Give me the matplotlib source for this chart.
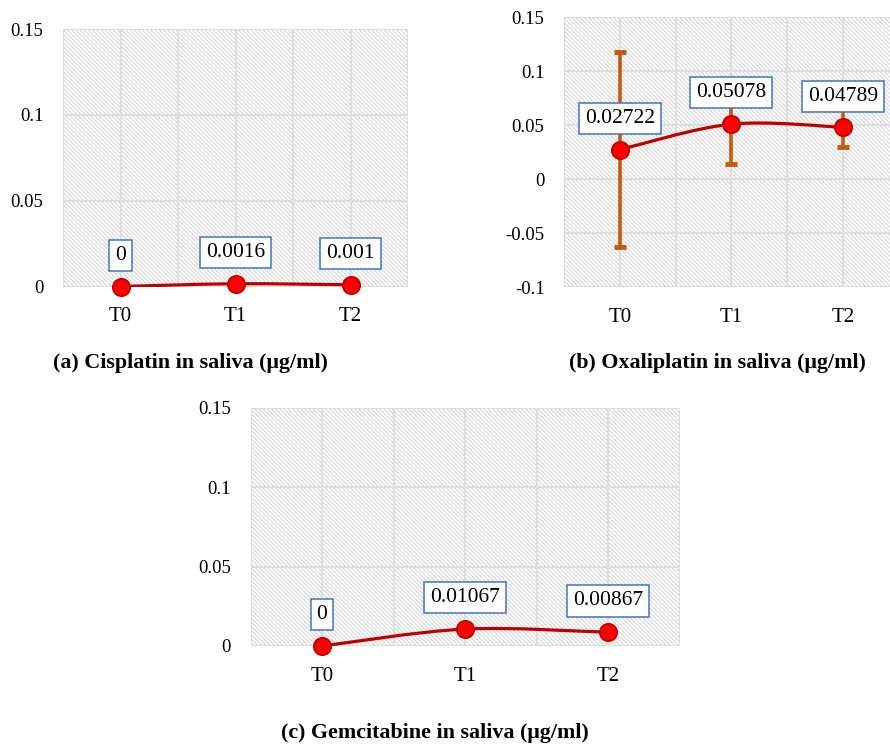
import numpy as np
import matplotlib
matplotlib.use("Agg")
import matplotlib.pyplot as plt
from matplotlib.path import Path
from matplotlib.patches import PathPatch, Rectangle

plt.rcParams['font.family'] = ['Liberation Serif', 'DejaVu Serif']
plt.rcParams['hatch.linewidth'] = 0.9

# ---- data -------------------------------------------------------------
timepoints = ['T0', 'T1', 'T2']

cisplatin = [0, 0.0016, 0.001]
cisplatin_labels = ['0', '0.0016', '0.001']

oxaliplatin = [0.02722, 0.05078, 0.04789]
oxaliplatin_err = [0.0905, 0.0369, 0.0183]
oxaliplatin_labels = ['0.02722', '0.05078', '0.04789']

gemcitabine = [0, 0.01067, 0.00867]
gemcitabine_labels = ['0', '0.01067', '0.00867']

yticks_pos = [0, 0.05, 0.1, 0.15]
yticks_pos_labels = ['0', '0.05', '0.1', '0.15']
yticks_full = [-0.1, -0.05, 0, 0.05, 0.1, 0.15]
yticks_full_labels = ['-0.1', '-0.05', '0', '0.05', '0.1', '0.15']

titles = ['(a) Cisplatin in saliva (\u03bcg/ml)',
          '(b) Oxaliplatin in saliva (\u03bcg/ml)',
          '(c) Gemcitabine in saliva (\u03bcg/ml)']

# ---- style ------------------------------------------------------------
W, H = 890, 747
LINE = '#C00000'
MARK = '#FF0000'
ERR = '#C55A11'
BOX = '#4472C4'
GRID = '#DEDEDE'
HATCH = '#DBDBDB'

fig = plt.figure(figsize=(W / 100, H / 100), dpi=100)
fig.patch.set_facecolor('white')


def px_rect(left, right, top, bottom):
    return [left / W, 1 - bottom / H, (right - left) / W, (bottom - top) / H]


def smooth_path(xs, ys):
    """Catmull-Rom style smoothed line through the points as cubic Beziers."""
    pts = np.column_stack([xs, ys]).astype(float)
    n = len(pts)
    verts = [pts[0]]
    codes = [Path.MOVETO]
    for i in range(n - 1):
        p0 = pts[max(i - 1, 0)]
        p1 = pts[i]
        p2 = pts[i + 1]
        p3 = pts[min(i + 2, n - 1)]
        c1 = p1 + (p2 - p0) / 6.0
        c2 = p2 - (p3 - p1) / 6.0
        verts += [c1, c2, p2]
        codes += [Path.CURVE4] * 3
    return Path(verts, codes)


def panel(rect, values, labels, ylim, yticks, yticklabels, err=None):
    ax = fig.add_axes(rect)
    ax.set_xlim(-0.5, 2.5)
    ax.set_ylim(*ylim)
    ax.patch.set_visible(False)
    ax.add_patch(Rectangle((0, 0), 1, 1, transform=ax.transAxes,
                           facecolor='white', edgecolor=HATCH,
                           hatch='\\' * 8, lw=0, zorder=0))
    x = np.arange(len(timepoints))
    ax.set_xticks(x)
    ax.set_xticklabels(timepoints, fontsize=15)
    ax.set_xticks([-0.5, 0.5, 1.5, 2.5], minor=True)
    ax.set_yticks(yticks)
    ax.set_yticklabels(yticklabels, fontsize=13.5)
    ax.grid(which='both', axis='x', color=GRID, lw=1.5, zorder=1)
    ax.grid(which='major', axis='y', color=GRID, lw=1.5, zorder=1)
    ax.tick_params(which='both', length=0)
    ax.tick_params(axis='y', pad=14)
    ax.tick_params(axis='x', pad=15)
    for s in ax.spines.values():
        s.set_visible(False)

    if err is not None:
        ax.errorbar(x, values, yerr=err, fmt='none', ecolor=ERR,
                    elinewidth=2.6, capsize=4, capthick=3.5, zorder=3)

    ax.add_patch(PathPatch(smooth_path(x, values), facecolor='none',
                           edgecolor=LINE, lw=2.3, zorder=4,
                           capstyle='round'))
    ax.plot(x, values, 'o', ms=12.5, mfc=MARK, mec=LINE, mew=1.2, zorder=5,
            clip_on=False)

    for xi, v, t in zip(x, values, labels):
        ax.annotate(t, (xi, v), xytext=(0, 22.5), textcoords='offset points',
                    ha='center', va='center', fontsize=15.5, zorder=6,
                    bbox=dict(boxstyle='square,pad=0.28', fc='white',
                              ec=BOX, lw=1.1))
    return ax


panel(px_rect(63, 408, 29, 286.5), cisplatin, cisplatin_labels,
      (0, 0.15), yticks_pos, yticks_pos_labels)
panel(px_rect(564, 898.5, 17, 287), oxaliplatin, oxaliplatin_labels,
      (-0.1, 0.15), yticks_full, yticks_full_labels, err=oxaliplatin_err)
panel(px_rect(250.5, 679.5, 408, 646), gemcitabine, gemcitabine_labels,
      (0, 0.15), yticks_pos, yticks_pos_labels)

for (cx, cy), t in zip([(190, 363), (717, 363), (435, 733)], titles):
    fig.text(cx / W, 1 - cy / H, t, ha='center', va='center',
             fontsize=15.8, fontweight='bold')

fig.savefig('out.png', dpi=100, facecolor='white')
